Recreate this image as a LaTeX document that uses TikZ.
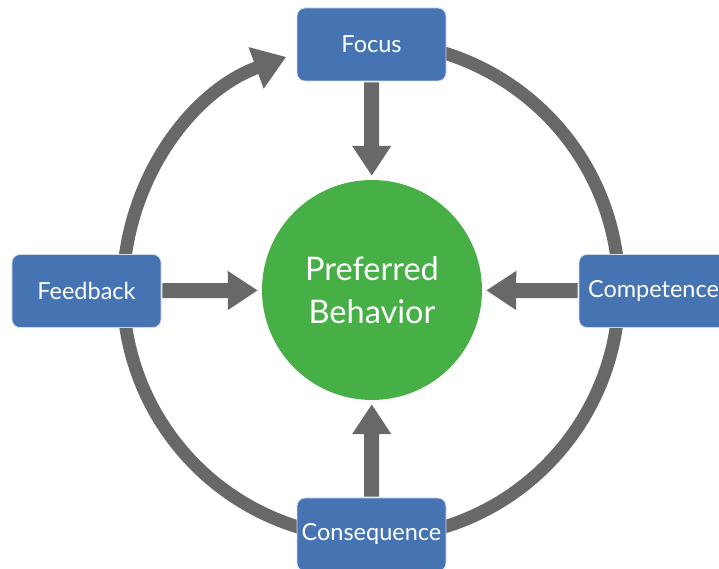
\documentclass[tikz,border=0pt]{standalone}
\usepackage{fontspec}
\setmainfont{Lato}
\usetikzlibrary{arrows.meta}
\definecolor{boxblue}{HTML}{4674B2}
\definecolor{ringgray}{HTML}{686868}
\definecolor{prefgreen}{HTML}{46B046}
\tikzset{
  stage/.style={rectangle, rounded corners=8pt, fill=boxblue, draw=white!75!boxblue,
    line width=0.8pt, minimum width=149pt, minimum height=73pt, inner sep=0pt,
    text=white, font=\fontsize{23.5}{28}\selectfont},
  ring/.style={draw=ringgray, line width=13pt},
  flow/.style={draw=ringgray, line width=15pt, -{Triangle[width=37pt,length=30pt]},
    shorten >=4pt, shorten <=1pt},
}
\begin{document}
\begin{tikzpicture}[x=1pt,y=1pt]
  \useasboundingbox (0,0) rectangle (719,569);
  \coordinate (hub) at (371,279);
  % outer cycle
  \draw[ring, -{Triangle[width=42pt,length=32pt]}] (hub) ++(180:248) arc (180:110:248);
  \draw[ring] (hub) ++(97:248) arc (97:-180:248);
  % centre
  \node[circle, fill=prefgreen, minimum size=220pt, text=white, align=center,
    font=\fontsize{32.5}{43}\selectfont] (pref) at (372,279) {Preferred\\Behavior};
  % the four stages
  \node[stage] (focus) at (371.5,524.5) {Focus};
  \node[stage] (feedback) at (86.5,278) {Feedback};
  \node[stage] (competence) at (653.5,278) {Competence};
  \node[stage] (consequence) at (371.5,34.5) {Consequence};
  \draw[flow] (focus) -- (pref);
  \draw[flow] (feedback) -- (pref);
  \draw[flow] (competence) -- (pref);
  \draw[flow] (consequence) -- (pref);
\end{tikzpicture}
\end{document}
